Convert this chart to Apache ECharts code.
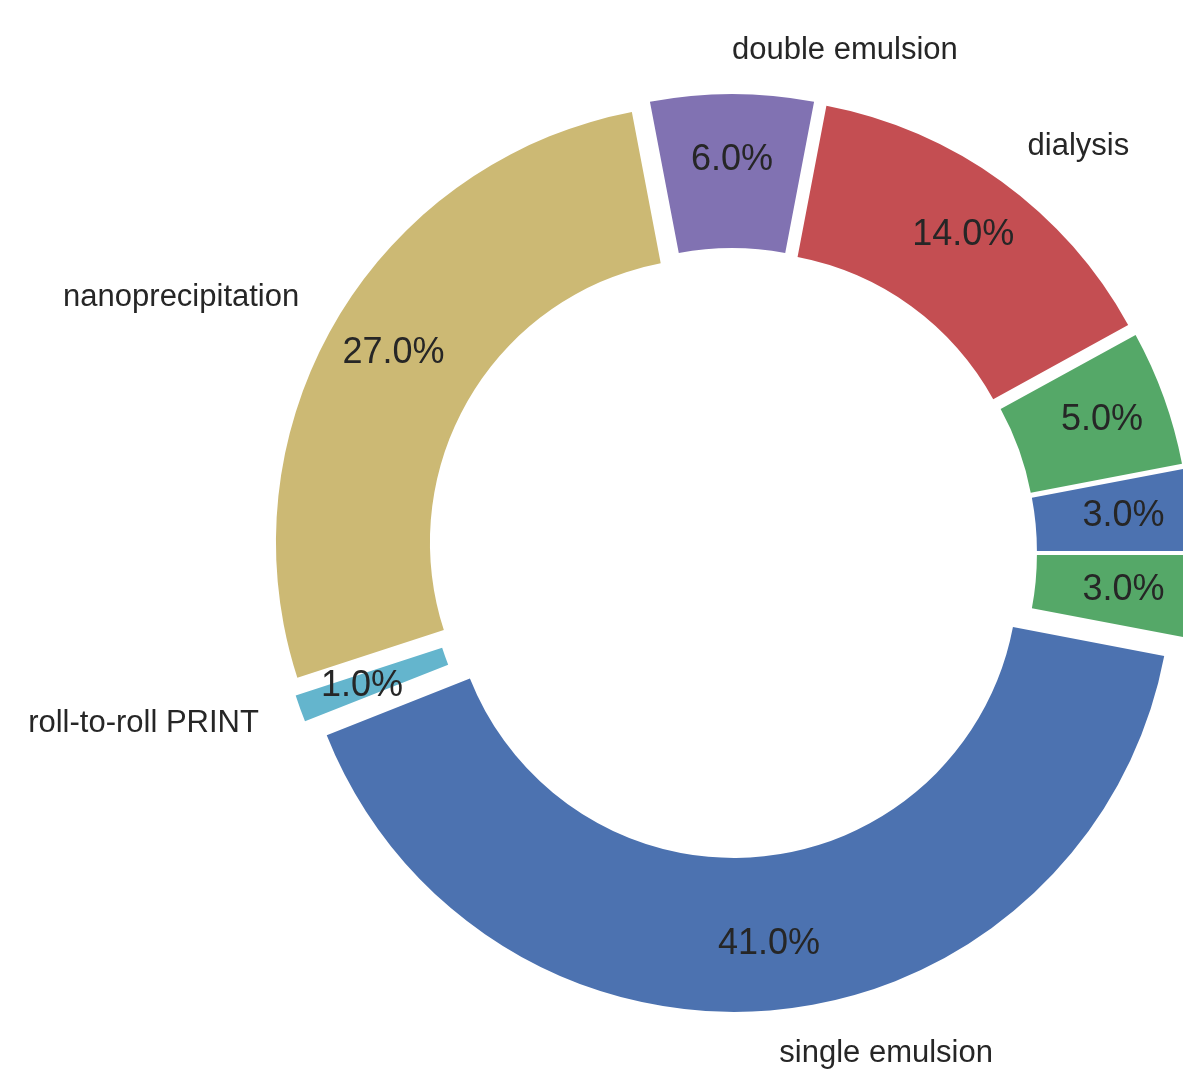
<!DOCTYPE html>
<html>
<head>
<meta charset="utf-8">
<script src="https://cdn.jsdelivr.net/npm/echarts@6/dist/echarts.min.js"></script>
<style>
html,body{margin:0;padding:0;background:#ffffff;}
#chart{width:1183px;height:1075px;}
</style>
</head>
<body>
<div id="chart"></div>
<script>
// ---- data (matplotlib order, counter-clockwise from 3 o'clock) ----
const categories = ['microfluidics', 'emulsion-diffusion', 'dialysis', 'double emulsion',
                    'nanoprecipitation', 'roll-to-roll PRINT', 'single emulsion', 'salting out'];
const values = [3, 5, 14, 6, 27, 1, 41, 3];

// ---- style ----
const palette = ['#4C72B0', '#55A868', '#C44E52', '#8172B2', '#CCB974', '#64B5CD', '#4C72B0', '#55A868'];
const FONT = '"Liberation Sans", Arial, Helvetica, sans-serif';
const TEXT = '#262626';
const CX = 732, CY = 553;      // pie centre (px)
const R = 438, R0 = 284;       // outer / inner radius
const EXPLODE = 21;            // radial offset of every wedge
const PCT_DIST = 0.85 * R + EXPLODE - 3;   // label radius for percentages
const NAME_DIST = 1.1 * R + EXPLODE;       // label radius for names

const base = {
  type: 'pie',
  center: [CX, CY],
  startAngle: 0,
  clockwise: false,
  silent: true,
  avoidLabelOverlap: false,
  emphasis: { disabled: true },
  animation: false
};

const chart = echarts.init(document.getElementById('chart'), null, { renderer: 'canvas' });
chart.setOption({
  backgroundColor: '#ffffff',
  animation: false,
  color: palette,
  series: [
    Object.assign({}, base, {
      name: 'wedges',
      radius: [R0, R],
      selectedMode: 'multiple',
      selectedOffset: EXPLODE,
      itemStyle: { borderWidth: 0 },
      label: { show: false },
      labelLine: { show: false },
      data: categories.map((n, i) => ({ name: n, value: values[i], selected: true }))
    }),
    Object.assign({}, base, {
      name: 'pct',
      radius: [PCT_DIST - 20, PCT_DIST + 20],
      itemStyle: { color: 'rgba(0,0,0,0)', borderWidth: 0 },
      label: {
        show: true, position: 'inside',
        formatter: p => p.percent.toFixed(1) + '%',
        fontSize: 36, color: TEXT, fontFamily: FONT
      },
      labelLine: { show: false },
      data: categories.map((n, i) => ({ name: n, value: values[i] }))
    }),
    Object.assign({}, base, {
      name: 'names',
      // tiny negative start so a label sitting exactly at 12 o'clock is left-aligned (as in matplotlib)
      startAngle: -1e-6,
      radius: [0, R],
      itemStyle: { color: 'rgba(0,0,0,0)', borderWidth: 0 },
      label: {
        show: true, position: 'outside',
        formatter: '{b}',
        distanceToLabelLine: 0,
        fontSize: 31, color: TEXT, fontFamily: FONT
      },
      labelLine: { show: false, length: NAME_DIST - R, length2: 0 },
      data: categories.map((n, i) => ({ name: n, value: values[i] }))
    })
  ]
});
</script>
</body>
</html>
